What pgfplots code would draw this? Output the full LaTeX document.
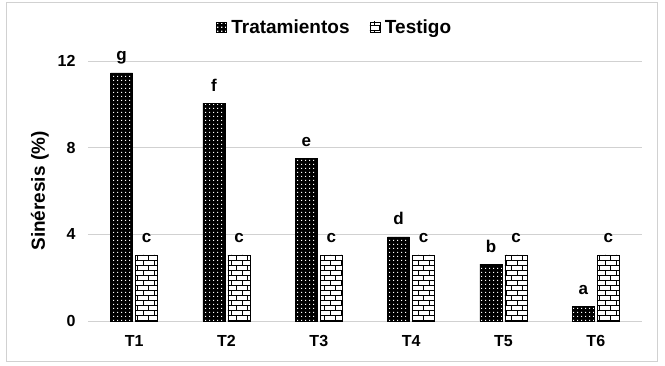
\documentclass[border=0pt]{standalone}
\usepackage{fontspec}
\setmainfont{Liberation Sans}
\usepackage{pgfplots}
\pgfplotsset{compat=1.18}
\usetikzlibrary{patterns}

\pgfdeclarepatternformonly{wdots}{\pgfpointorigin}{\pgfpoint{4pt}{4pt}}{\pgfpoint{4pt}{4pt}}{%
  \pgfpathrectangle{\pgfpoint{1.3pt}{1.3pt}}{\pgfpoint{1.4pt}{1.4pt}}\pgfusepath{fill}}

\pgfdeclarepatternformonly{bricksx}{\pgfpoint{-0.5pt}{-0.5pt}}{\pgfpoint{11.5pt}{10.5pt}}{\pgfpoint{11pt}{10pt}}{%
  \pgfsetlinewidth{0.7pt}%
  \pgfpathmoveto{\pgfpoint{0pt}{0pt}}\pgfpathlineto{\pgfpoint{11pt}{0pt}}%
  \pgfpathmoveto{\pgfpoint{0pt}{5pt}}\pgfpathlineto{\pgfpoint{11pt}{5pt}}%
  \pgfpathmoveto{\pgfpoint{0pt}{0pt}}\pgfpathlineto{\pgfpoint{0pt}{5pt}}%
  \pgfpathmoveto{\pgfpoint{5.5pt}{5pt}}\pgfpathlineto{\pgfpoint{5.5pt}{10pt}}%
  \pgfusepath{stroke}}

\begin{document}
\begin{tikzpicture}[x=1pt,y=1pt]
\useasboundingbox (-86,-44) rectangle (579,321);
\draw[black!18, line width=0.8pt] (-80,-40) rectangle (571,319);
\begin{axis}[
  at={(2pt,0pt)}, anchor=south west,
  scale only axis, width=554pt, height=260pt,
  xmin=-0.5, xmax=5.5, ymin=0, ymax=12,
  ytick={0,4,8,12},
  xtick={0,...,5}, xticklabels={T1,T2,T3,T4,T5,T6},
  axis line style={draw=none},
  major tick length=0pt,
  ymajorgrids, grid style={black!18, line width=0.8pt},
  ticklabel style={font=\bfseries\fontsize{16}{16}\selectfont},
  /pgf/number format/assume math mode=true,
  yticklabel style={xshift=-9pt},
  xticklabel style={yshift=-11pt},
  ylabel={Sinéresis (\%)},
  ylabel style={at={(axis description cs:-0.087,0.5)}, anchor=center, font=\bfseries\fontsize{19}{19}\selectfont},
  ybar, bar width=22pt,
  point meta=explicit symbolic,
  nodes near coords,
  every node near coord/.append style={anchor=base, yshift=12pt, font=\bfseries\fontsize{17}{17}\selectfont},
  legend columns=2,
  legend style={at={(rel axis cs:0.445,1.131)}, anchor=center, draw=none, fill=none,
    font=\bfseries\fontsize{19}{19}\selectfont,
    /tikz/every odd column/.append style={column sep=3pt},
    /tikz/every even column/.append style={column sep=18pt}},
  legend image code/.code={\draw[#1] (0pt,-5pt) rectangle (10pt,5pt);},
]
\addplot[bar shift=-12.5pt, draw=black, fill=black, postaction={pattern=wdots, pattern color=white}]
  coordinates {(0,11.45)[g] (1,10.06)[f] (2,7.52)[e] (3,3.88)[d] (4,2.63)[b] (5,0.69)[a]};
\addplot[bar shift=12.5pt, draw=black, fill=white, postaction={pattern=bricksx, pattern color=black}]
  coordinates {(0,3.05)[c] (1,3.05)[c] (2,3.05)[c] (3,3.05)[c] (4,3.05)[c] (5,3.05)[c]};
\legend{Tratamientos, Testigo}
\end{axis}
\end{tikzpicture}
\end{document}
